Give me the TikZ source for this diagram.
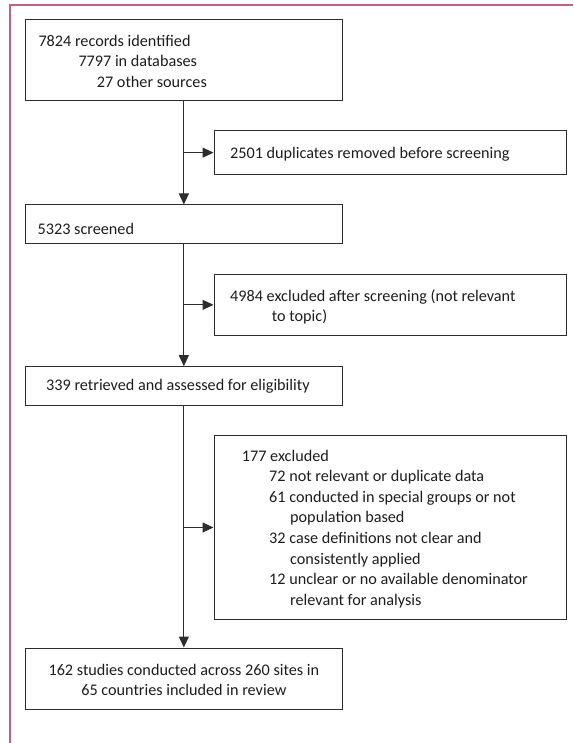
\documentclass[tikz,border=0pt]{standalone}
\usepackage{fontspec}
\setmainfont{Carlito}
\usetikzlibrary{arrows.meta}
\definecolor{frame}{RGB}{204,92,132}
\definecolor{ink}{RGB}{30,28,28}
\definecolor{edge}{RGB}{45,45,45}
\tikzset{
  box/.style={draw=edge, line width=1pt, rectangle, inner sep=0pt},
  txt/.style={anchor=base west, inner sep=0pt, text=ink, font=\fontsize{16.2}{19}\selectfont},
  ctxt/.style={anchor=base, inner sep=0pt, text=ink, font=\fontsize{16.2}{19}\selectfont},
  arr/.style={draw=edge, line width=1pt, -{Triangle[length=11pt,width=10pt]}},
  conn/.style={draw=edge, line width=1pt}
}
\begin{document}
\begin{tikzpicture}[x=1pt,y=-1pt]
\useasboundingbox (0,0) rectangle (573,743);
% frame
\draw[frame, line width=2pt] (573,5) -- (10,5) -- (10,743);
% boxes
\node[box, minimum width=317.7pt, minimum height=80.7pt] (b1) at (183.85,60.35) {};
\node[box, minimum width=352.5pt, minimum height=43.3pt] (b2) at (390.25,152.65) {};
\node[box, minimum width=317.7pt, minimum height=38.3pt] (b3) at (183.85,224.15) {};
\node[box, minimum width=352.5pt, minimum height=61.7pt] (b4) at (390.25,304.85) {};
\node[box, minimum width=317.7pt, minimum height=38.3pt] (b5) at (183.85,385.85) {};
\node[box, minimum width=352.5pt, minimum height=183.6pt] (b6) at (390.25,527.5) {};
\node[box, minimum width=317.7pt, minimum height=61pt] (b7) at (183.85,678.5) {};
% texts
\node[txt] (t1a) at (38.3,46.7) {7824 records identified};
\node[txt] (t1b) at (78.3,67) {7797 in databases};
\node[txt] (t1c) at (96.7,87.3) {27 other sources};
\node[txt] (t2) at (230,158.3) {2501 duplicates removed before screening};
\node[txt] (t3) at (37.5,234) {5323 screened};
\node[txt] (t4a) at (230,301.7) {4984 excluded after screening (not relevant};
\node[txt] (t4b) at (271.7,321.7) {to topic)};
\node[txt] (t5) at (46,390.5) {339 retrieved and assessed for eligibility};
\node[txt] (t6a) at (241.7,461) {177 excluded};
\node[txt] (t6b) at (269,481.6) {72 not relevant or duplicate data};
\node[txt] (t6c) at (269,502.2) {61 conducted in special groups or not};
\node[txt] (t6d) at (290,522.8) {population based};
\node[txt] (t6e) at (269,543.4) {32 case definitions not clear and};
\node[txt] (t6f) at (290,564) {consistently applied};
\node[txt] (t6g) at (269,584.6) {12 unclear or no available denominator};
\node[txt] (t6h) at (290,605.2) {relevant for analysis};
\node[ctxt] (t7a) at (183.85,675) {162 studies conducted across 260 sites in};
\node[ctxt] (t7b) at (183.85,695.7) {65 countries included in review};
% connectors
\draw[arr] (b1.south) -- (b3.north);
\draw[arr] (b3.south) -- (b5.north);
\draw[arr] (b5.south) -- (b7.north);
\draw[arr] (b2.west -| b1.south) -- (b2.west);
\draw[arr] (b4.west -| b3.south) -- (b4.west);
\draw[arr] (b6.west -| b5.south) -- (b6.west);
\end{tikzpicture}
\end{document}
